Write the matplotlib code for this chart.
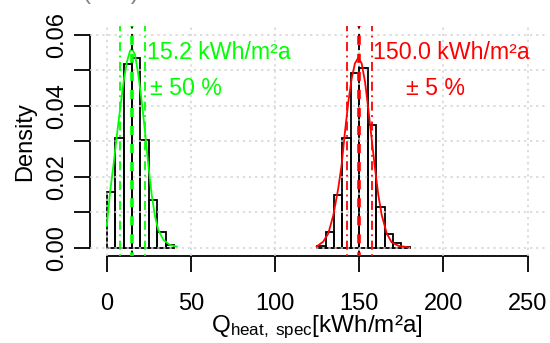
import matplotlib
matplotlib.use('Agg')
import matplotlib.pyplot as plt
import numpy as np

plt.rcParams['font.family'] = ['Liberation Sans', 'DejaVu Sans']
plt.rcParams['mathtext.fontset'] = 'custom'
plt.rcParams['mathtext.rm'] = 'Liberation Sans'
plt.rcParams['mathtext.it'] = 'Liberation Sans'

# histogram bins and densities
green_edges = [0, 5, 10, 15, 20, 25, 30, 35, 40]
green_dens = [0.0158, 0.0310, 0.0518, 0.0535, 0.0305, 0.0136, 0.0044, 0.0007]
red_edges = [125, 130, 135, 140, 145, 150, 155, 160, 165, 170, 175, 180]
red_dens = [0.0006, 0.0044, 0.0150, 0.0311, 0.0493, 0.0508, 0.0346, 0.0116,
            0.0039, 0.0013, 0.0003]

# kernel density curves
green_kx = [0, 2, 4, 6, 8, 10, 12, 13.8, 15, 16.8, 18.8, 20.8, 22.7, 24.7,
            26.7, 28.7, 30.6, 33.6, 37.6, 41.6]
green_ky = [0.0062, 0.0159, 0.0234, 0.0318, 0.0394, 0.0468, 0.0525, 0.0555,
            0.0562, 0.0544, 0.0487, 0.0412, 0.0328, 0.0234, 0.0149, 0.0088,
            0.0051, 0.0023, 0.0008, 0.0004]
red_kx = [124.7, 128.6, 131.6, 134.6, 137.5, 139.5, 141.5, 143.5, 145.5, 147.4,
          149.4, 151.4, 153.4, 155.3, 157.3, 159.3, 161.3, 163.3, 166.3, 169.2,
          173.2, 179]
red_ky = [0.0004, 0.0018, 0.0041, 0.0093, 0.0168, 0.0234, 0.0328, 0.0412,
          0.0478, 0.0520, 0.0536, 0.0520, 0.0468, 0.0394, 0.0309, 0.0225,
          0.0149, 0.0093, 0.0041, 0.0016, 0.0006, 0.0002]

# reference value, band (+/- %) and sample centre
green_ref, green_pct, green_mid = 15.2, 50, 15.0
red_ref, red_pct, red_mid = 150.0, 5, 149.8

fig = plt.figure(figsize=(5.5, 3.43), dpi=100)
ax = fig.add_axes([0.1635, 0.2522, 0.8265, 0.6706])
ax.set_xlim(-10, 260)
ax.set_ylim(-0.0024, 0.0624)

# histograms (open bars)
for edges, dens in [(green_edges, green_dens), (red_edges, red_dens)]:
    ax.bar(edges[:-1], dens, width=np.diff(edges), align='edge',
           facecolor='none', edgecolor='black', linewidth=1.3, zorder=2)

# grid on top, like R's grid()
for gx in range(0, 251, 50):
    ax.axvline(gx, color='lightgray', lw=1.1, ls=(0, (1.5, 2.5)), zorder=3)
for gy in np.arange(0, 0.061, 0.01):
    ax.axhline(gy, color='lightgray', lw=1.1, ls=(0, (1.5, 2.5)), zorder=3)

ax.plot(green_kx, green_ky, color='#00FF00', lw=1.3, zorder=4)
ax.plot(red_kx, red_ky, color='#FF0000', lw=1.3, zorder=4)

for ref, pct, mid, col in [(green_ref, green_pct, green_mid, '#00FF00'),
                           (red_ref, red_pct, red_mid, '#FF0000')]:
    ax.axvline(mid, color='black', lw=1.3, ls=(0, (3, 3)), zorder=5)
    ax.axvline(ref, color=col, lw=2.6, ls=(1.5, (2.5, 2.5)), zorder=6)
    for v in (ref * (1 - pct / 100), ref * (1 + pct / 100)):
        ax.axvline(v, color=col, lw=1.3, ls=(0, (1, 2.5, 5, 2.5)), zorder=5)

ax.text(23.9, 0.0532, '%.1f kWh/m²a' % green_ref, color='#00FF00', fontsize=16.7)
ax.text(25.7, 0.0431, '± %d %%' % green_pct, color='#00FF00', fontsize=16.7)
ax.text(158.1, 0.0532, '%.1f kWh/m²a' % red_ref, color='#FF0000', fontsize=16.7)
ax.text(177.7, 0.0431, '± %d %%' % red_pct, color='#FF0000', fontsize=16.7)

# R style axes
for s in ['top', 'right']:
    ax.spines[s].set_visible(False)
ax.spines['left'].set_bounds(0, 0.06)
ax.spines['bottom'].set_bounds(0, 250)
ax.spines['left'].set_linewidth(1.3)
ax.spines['bottom'].set_linewidth(1.3)
ax.set_xticks(range(0, 251, 50))
ax.set_yticks(np.arange(0, 0.061, 0.01))
ax.set_yticklabels(['0.00', '', '0.02', '', '0.04', '', '0.06'])
ax.tick_params(axis='both', length=11.5, width=1.3, labelsize=17)
ax.tick_params(axis='x', pad=15)
ax.tick_params(axis='y', pad=4, labelrotation=90)
for lab in ax.get_yticklabels():
    lab.set_verticalalignment('center')

fig.text(25 / 550, 1 - 141.5 / 343, 'Density', rotation=90,
         ha='center', va='center', fontsize=17)
fig.text(317 / 550, 2 / 343, r'Q$_{\mathrm{heat,\ spec}}$[kWh/m²a]',
         ha='center', va='bottom', fontsize=17.5)
fig.text(111 / 550, 1.003, '(      )', color='gray', ha='center',
         va='baseline', fontsize=17)

fig.savefig('out.png', dpi=100)
